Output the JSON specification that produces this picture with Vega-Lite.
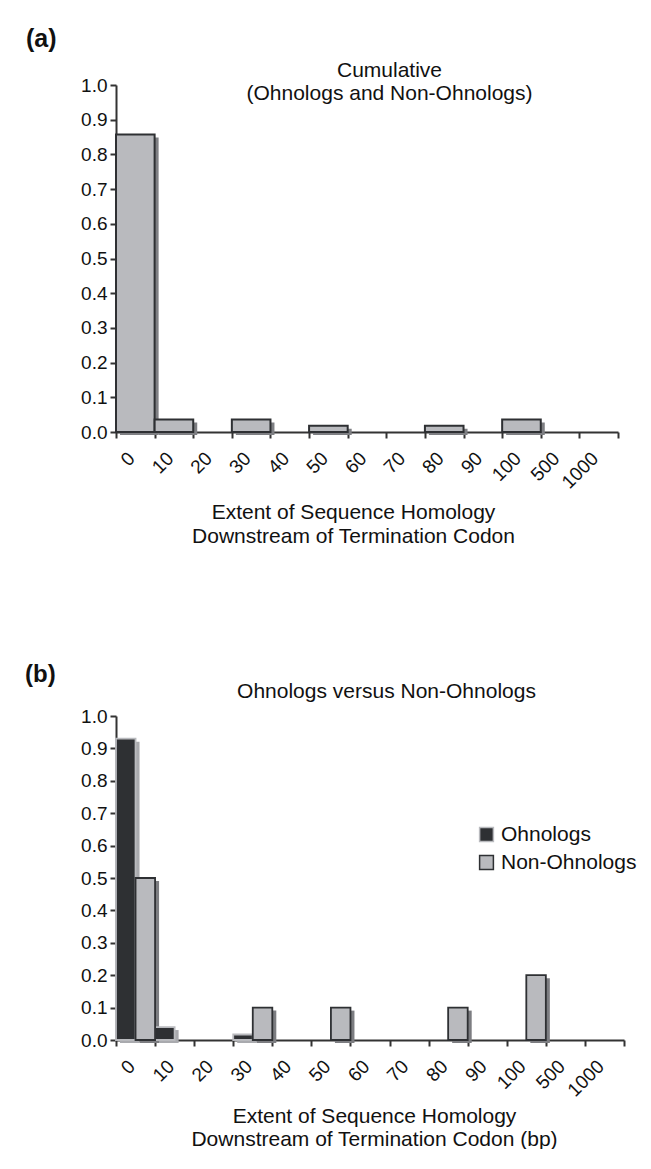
{
  "$schema": "https://vega.github.io/schema/vega-lite/v6.json",
  "padding": {"left": 25, "top": 27, "right": 0, "bottom": 0},
  "spacing": 116,
  "config": {
    "view": {"stroke": null},
    "font": "Liberation Sans",
    "axis": {"grid": false, "domainColor": "#333333", "tickColor": "#333333", "labelColor": "#111111", "titleColor": "#111111", "domainWidth": 2, "tickWidth": 2, "tickSize": 6, "labelFont": "Liberation Sans", "titleFont": "Liberation Sans"},
    "title": {"font": "Liberation Sans", "color": "#111111"}
  },
  "vconcat": [
    {
      "width": 502,
      "height": 347,
      "title": {"text": "(a)", "anchor": "start", "frame": "group", "dx": -90, "fontSize": 25, "fontWeight": "bold", "baseline": "alphabetic", "offset": -13},
      "data": {"values": [
        {"bin": "0", "value": 0.857},
        {"bin": "10", "value": 0.036},
        {"bin": "30", "value": 0.036},
        {"bin": "50", "value": 0.018},
        {"bin": "80", "value": 0.018},
        {"bin": "100", "value": 0.036}
      ]},
      "layer": [
        {
          "mark": {"type": "bar", "fill": "#7e7f83", "xOffset": 4, "yOffset": 3},
          "encoding": {
            "x": {"field": "bin", "type": "nominal", "sort": null,
              "scale": {"domain": ["0","10","20","30","40","50","60","70","80","90","100","500","1000"], "paddingInner": 0, "paddingOuter": 0},
              "axis": {"orient": "top", "domain": false, "ticks": false, "labels": false, "title": ["Cumulative", "(Ohnologs and Non-Ohnologs)"], "titleX": 273, "titleY": -8.6, "titleBaseline": "alphabetic", "titleAlign": "center", "titleLineHeight": 23.5, "titleFontSize": 21, "titleFontWeight": "normal"}},
            "y": {"field": "value", "type": "quantitative", "scale": {"domain": [0, 1], "nice": false},
              "axis": {"values": [0,0.1,0.2,0.3,0.4,0.5,0.6,0.7,0.8,0.9,1], "format": ".1f", "title": null, "labelFontSize": 19, "labelPadding": 3, "labelFlush": false}}
          }
        },
        {
          "mark": {"type": "bar", "fill": "#b9babe", "stroke": "#2e3033", "strokeWidth": 2},
          "encoding": {
            "x": {"field": "bin", "type": "nominal", "sort": null,
              "scale": {"domain": ["0","10","20","30","40","50","60","70","80","90","100","500","1000"], "paddingInner": 0, "paddingOuter": 0},
              "axis": {"orient": "bottom", "tickBand": "extent", "labelAngle": -45, "labelAlign": "right", "labelBaseline": "middle", "labelFontSize": 19, "labelPadding": 17, "labelOffset": -4, "labelOverlap": false, "labelFlush": false,
                "title": ["Extent of Sequence Homology", "Downstream of Termination Codon"], "titleX": 237, "titleY": 86, "titleBaseline": "alphabetic", "titleAlign": "center", "titleLineHeight": 24, "titleFontSize": 21, "titleFontWeight": "normal"}},
            "y": {"field": "value", "type": "quantitative", "scale": {"domain": [0, 1], "nice": false},
              "axis": {"values": [0,0.1,0.2,0.3,0.4,0.5,0.6,0.7,0.8,0.9,1], "format": ".1f", "title": null, "labelFontSize": 19, "labelPadding": 3, "labelFlush": false}}
          }
        }
      ],
      "resolve": {"axis": {"x": "independent"}}
    },
    {
      "width": 508,
      "height": 324,
      "title": {"text": "(b)", "anchor": "start", "frame": "group", "dx": -91, "fontSize": 24, "fontWeight": "bold", "baseline": "alphabetic", "offset": -25.5},
      "data": {"values": [
        {"bin": "0", "series": "Ohnologs", "value": 0.93},
        {"bin": "10", "series": "Ohnologs", "value": 0.04},
        {"bin": "30", "series": "Ohnologs", "value": 0.017},
        {"bin": "0", "series": "Non-Ohnologs", "value": 0.5},
        {"bin": "30", "series": "Non-Ohnologs", "value": 0.1},
        {"bin": "50", "series": "Non-Ohnologs", "value": 0.1},
        {"bin": "80", "series": "Non-Ohnologs", "value": 0.1},
        {"bin": "100", "series": "Non-Ohnologs", "value": 0.2}
      ]},
      "layer": [
        {
          "mark": {"type": "bar", "yOffset": 3},
          "encoding": {
            "x": {"field": "bin", "type": "nominal", "sort": null,
              "scale": {"domain": ["0","10","20","30","40","50","60","70","80","90","100","500","1000"], "paddingInner": 0, "paddingOuter": 0},
              "axis": {"orient": "top", "domain": false, "ticks": false, "labels": false, "title": "Ohnologs versus Non-Ohnologs", "titleX": 270, "titleY": -19, "titleBaseline": "alphabetic", "titleAlign": "center", "titleFontSize": 21, "titleFontWeight": "normal"}},
            "xOffset": {"field": "series", "type": "nominal", "sort": null,
              "scale": {"domain": ["Ohnologs", "Non-Ohnologs"], "range": [4, 43.08], "paddingInner": 0, "paddingOuter": 0}},
            "y": {"field": "value", "type": "quantitative", "scale": {"domain": [0, 1], "nice": false},
              "axis": {"values": [0,0.1,0.2,0.3,0.4,0.5,0.6,0.7,0.8,0.9,1], "format": ".1f", "title": null, "labelFontSize": 19, "labelPadding": 3, "labelFlush": false}},
            "fill": {"condition": {"test": "datum.series === 'Ohnologs'", "value": "#a9aaae"}, "value": "#7c7d81"}
          }
        },
        {
          "mark": {"type": "bar", "strokeWidth": 1.8},
          "encoding": {
            "x": {"field": "bin", "type": "nominal", "sort": null,
              "scale": {"domain": ["0","10","20","30","40","50","60","70","80","90","100","500","1000"], "paddingInner": 0, "paddingOuter": 0},
              "axis": {"orient": "bottom", "tickBand": "extent", "labelAngle": -45, "labelAlign": "right", "labelBaseline": "middle", "labelFontSize": 19, "labelPadding": 17, "labelOffset": -4, "labelOverlap": false, "labelFlush": false,
                "title": ["Extent of Sequence Homology", "Downstream of Termination Codon (bp)"], "titleX": 258, "titleY": 82, "titleBaseline": "alphabetic", "titleAlign": "center", "titleLineHeight": 23, "titleFontSize": 21, "titleFontWeight": "normal"}},
            "xOffset": {"field": "series", "type": "nominal", "sort": null,
              "scale": {"domain": ["Ohnologs", "Non-Ohnologs"], "paddingInner": 0, "paddingOuter": 0}},
            "y": {"field": "value", "type": "quantitative", "scale": {"domain": [0, 1], "nice": false},
              "axis": {"values": [0,0.1,0.2,0.3,0.4,0.5,0.6,0.7,0.8,0.9,1], "format": ".1f", "title": null, "labelFontSize": 19, "labelPadding": 3, "labelFlush": false}},
            "fill": {"field": "series", "type": "nominal", "sort": null,
              "scale": {"domain": ["Ohnologs", "Non-Ohnologs"], "range": ["#2e3033", "#b9babe"]},
              "legend": {"orient": "none", "legendX": 360, "legendY": 739, "title": null, "symbolType": "square", "symbolSize": 190, "symbolStrokeWidth": 1.5, "labelFontSize": 21, "labelOffset": 4, "rowPadding": 6, "labelColor": "#111111", "labelFont": "Liberation Sans"}},
            "stroke": {"field": "series", "type": "nominal", "sort": null,
              "scale": {"domain": ["Ohnologs", "Non-Ohnologs"], "range": ["#b9babe", "#2e3033"]},
              "legend": {"orient": "none", "legendX": 360, "legendY": 739, "title": null, "symbolType": "square", "symbolSize": 190, "symbolStrokeWidth": 1.5, "labelFontSize": 21, "labelOffset": 4, "rowPadding": 6, "labelColor": "#111111", "labelFont": "Liberation Sans"}}
          }
        }
      ],
      "resolve": {"axis": {"x": "independent"}, "scale": {"xOffset": "independent"}}
    }
  ]
}
